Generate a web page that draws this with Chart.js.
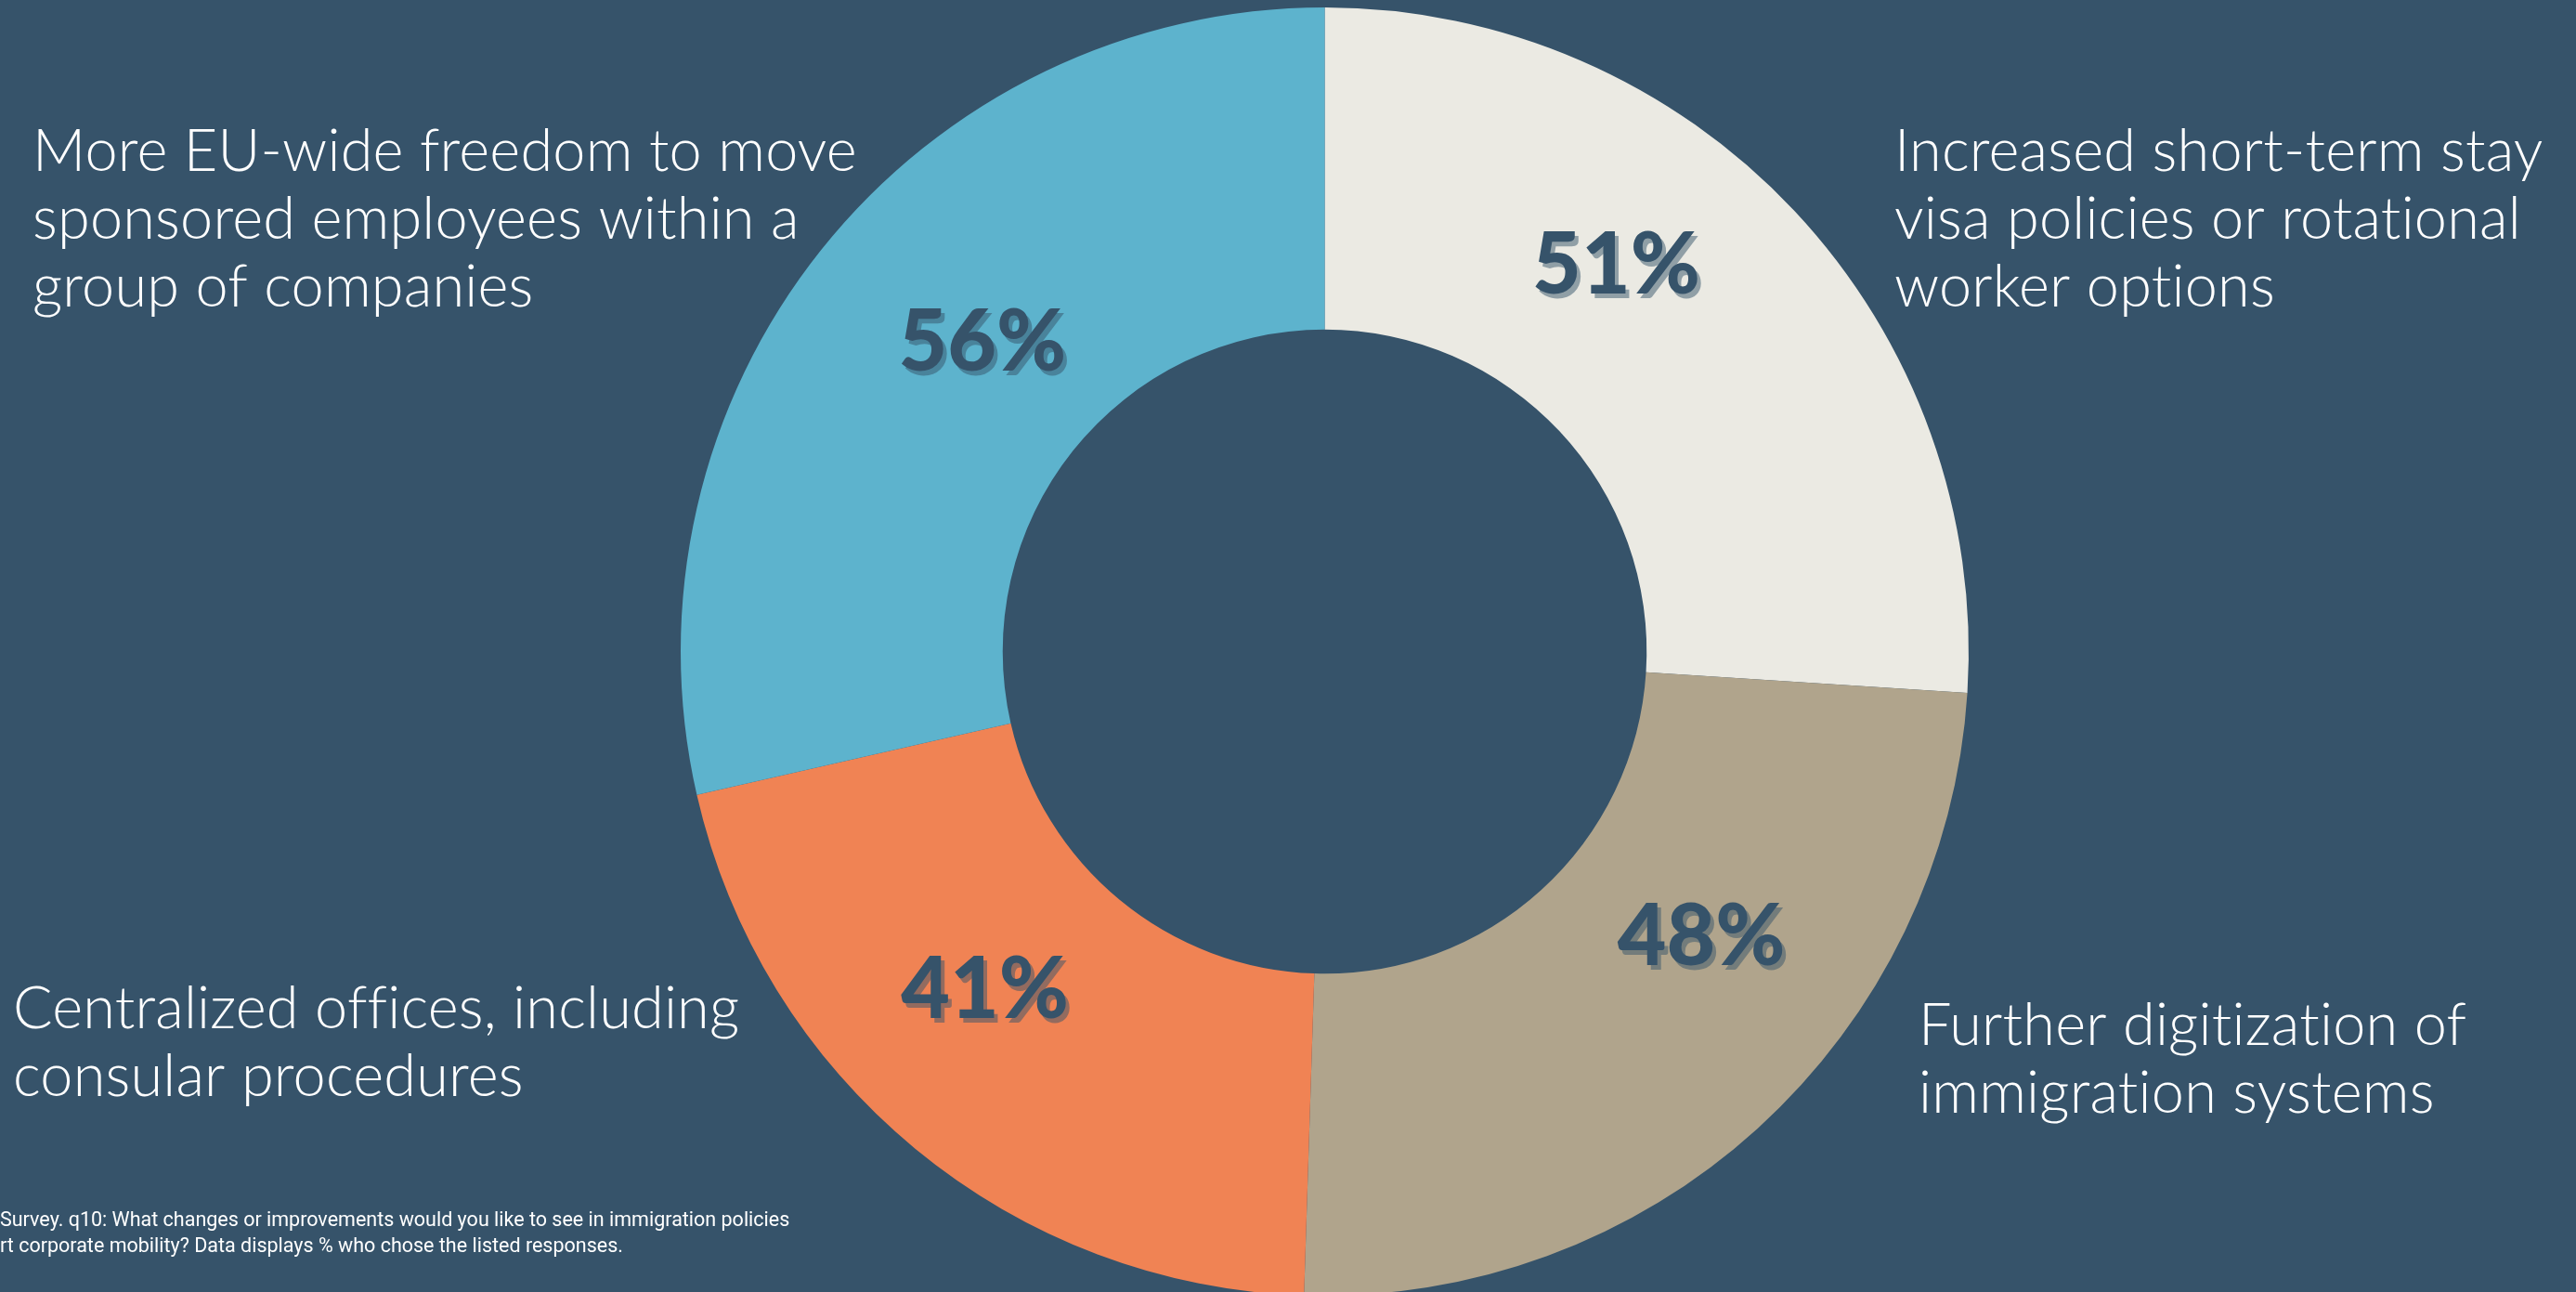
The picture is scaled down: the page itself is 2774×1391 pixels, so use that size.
<!DOCTYPE html>
<html>
<head>
<meta charset="utf-8">
<script src="https://cdn.jsdelivr.net/npm/chart.js@4"></script>
<style>
  html, body { margin: 0; padding: 0; background: #36536a; overflow: hidden; }
  #wrap { width: 2774px; height: 1391px; overflow: hidden; }
</style>
</head>
<body>
<div id="wrap"><canvas id="ring" width="2774" height="1403"></canvas></div>
<script>
// responses, clockwise from 12 o'clock
const categories = [
  ['Increased short-term stay', 'visa policies or rotational', 'worker options'],
  ['Further digitization of', 'immigration systems'],
  ['Centralized offices, including', 'consular procedures'],
  ['More EU-wide freedom to move', 'sponsored employees within a', 'group of companies']
];
const shares = [51, 48, 41, 56];
const sliceColors = ['#ebeae3', '#b0a48c', '#f08354', '#5db3cd'];

const footnote = [
  'Survey. q10: What changes or improvements would you like to see in immigration policies',
  'rt corporate mobility? Data displays % who chose the listed responses.'
];

// where each caption block sits: left x, first baseline
const captionPos = [
  { x: 2040, y: 184 },
  { x: 2066, y: 1125 },
  { x: 14, y: 1107 },
  { x: 35, y: 184 }
];
const lineGap = 73;

// small angle (deg) / radial nudges for the % labels inside the ring
const pctNudge = [
  { deg: -9.7, t: 0.5 },
  { deg: -10.5, t: 0.47 },
  { deg: 5.6, t: 0.49 },
  { deg: 3.4, t: 0.43 }
];

const ink = '#36536a';

const ringLabels = {
  id: 'ringLabels',
  afterDatasetsDraw(chart) {
    const ctx = chart.ctx;
    const arcs = chart.getDatasetMeta(0).data;
    ctx.save();
    ctx.font = '900 91px Lato, "DejaVu Sans", sans-serif';
    ctx.textAlign = 'center';
    ctx.textBaseline = 'middle';
    arcs.forEach((arc, i) => {
      const p = arc.getProps(['x', 'y', 'startAngle', 'endAngle', 'innerRadius', 'outerRadius'], true);
      const a = (p.startAngle + p.endAngle) / 2 + pctNudge[i].deg * Math.PI / 180;
      const r = p.innerRadius + (p.outerRadius - p.innerRadius) * pctNudge[i].t;
      const x = p.x + r * Math.cos(a);
      const y = p.y + r * Math.sin(a);
      const txt = shares[i] + '%';
      ctx.fillStyle = 'rgba(54, 83, 106, 0.5)';
      ctx.fillText(txt, x + 4, y + 5);
      ctx.fillStyle = ink;
      ctx.fillText(txt, x, y);
    });
    ctx.restore();
  },
  afterDraw(chart) {
    const ctx = chart.ctx;
    ctx.save();
    ctx.fillStyle = '#ffffff';
    ctx.textAlign = 'left';
    ctx.textBaseline = 'alphabetic';
    // no "ti" ligature in the captions
    ctx.textRendering = 'optimizeSpeed';
    ctx.letterSpacing = '0.2px';
    ctx.font = '300 63px Lato, "Open Sans", sans-serif';
    categories.forEach((lines, i) => {
      lines.forEach((ln, k) => {
        ctx.fillText(ln, captionPos[i].x, captionPos[i].y + k * lineGap);
      });
    });
    ctx.letterSpacing = '0px';
    ctx.font = '400 21.5px Roboto, "Liberation Sans", sans-serif';
    ctx.fillText(footnote[0], 0, 1320);
    ctx.fillText(footnote[1], 0, 1348);
    ctx.restore();
  }
};

new Chart(document.getElementById('ring'), {
  type: 'doughnut',
  data: {
    labels: categories.map(c => c.join(' ')),
    datasets: [{
      data: shares,
      backgroundColor: sliceColors,
      borderWidth: 0
    }]
  },
  options: {
    responsive: false,
    animation: false,
    cutout: '50%',
    layout: { padding: { left: 733, right: 654, top: 8, bottom: 8 } },
    plugins: {
      legend: { display: false },
      tooltip: { enabled: false }
    }
  },
  plugins: [ringLabels]
});
</script>
</body>
</html>
